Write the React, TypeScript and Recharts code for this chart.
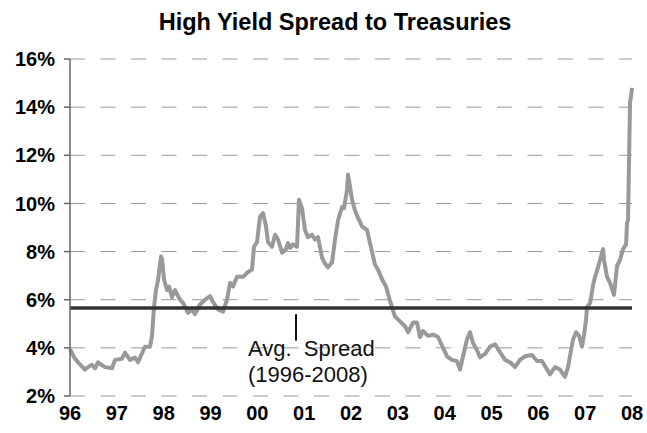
import React from 'react';
import { LineChart, Line, XAxis, YAxis, CartesianGrid, ReferenceLine, ReferenceDot } from 'recharts';

const chartTitle = 'High Yield Spread to Treasuries';
const yearTicks = [0, 1, 2, 3, 4, 5, 6, 7, 8, 9, 10, 11, 12];
const yearLabels = ['96', '97', '98', '99', '00', '01', '02', '03', '04', '05', '06', '07', '08'];
const spreadTicks = [2, 4, 6, 8, 10, 12, 14, 16];
const avgSpread = 5.66;
const avgLabelLine1 = 'Avg.  Spread';
const avgLabelLine2 = '(1996-2008)';
const avgMarkerX = 4.826;
const avgMarkerTop = 5.4;
const avgMarkerBottom = 4.3;
const avgTextX = 3.8;
const avgTextY1 = 3.68;
const avgTextY2 = 2.6;

// time in years since the start of the axis (label "96" = 0)
const times = [
  0.0, 0.09, 0.171, 0.32, 0.384, 0.47, 0.534, 0.598, 0.747, 0.897, 0.961, 1.11, 1.174, 1.281, 1.388, 1.452,
  1.602, 1.708, 1.751, 1.794, 1.836, 1.879, 1.943, 1.965, 2.007, 2.071, 2.114, 2.178, 2.242, 2.349, 2.413,
  2.52, 2.605, 2.669, 2.776, 2.883, 2.99, 3.054, 3.16, 3.267, 3.353, 3.417, 3.481, 3.566, 3.694, 3.801, 3.886,
  3.929, 3.993, 4.057, 4.121, 4.185, 4.228, 4.313, 4.378, 4.442, 4.527, 4.612, 4.655, 4.698, 4.762, 4.847,
  4.89, 4.954, 5.018, 5.082, 5.168, 5.232, 5.296, 5.381, 5.445, 5.509, 5.595, 5.659, 5.723, 5.808, 5.851,
  5.915, 5.936, 5.979, 6.022, 6.086, 6.15, 6.235, 6.342, 6.406, 6.513, 6.577, 6.662, 6.748, 6.833, 6.94,
  7.047, 7.153, 7.218, 7.324, 7.41, 7.474, 7.538, 7.645, 7.751, 7.858, 7.965, 8.05, 8.157, 8.264, 8.328,
  8.392, 8.477, 8.541, 8.606, 8.691, 8.755, 8.862, 8.969, 9.076, 9.182, 9.289, 9.396, 9.503, 9.609, 9.716,
  9.866, 9.972, 10.079, 10.186, 10.25, 10.357, 10.463, 10.57, 10.634, 10.698, 10.741, 10.805, 10.869, 10.933,
  10.976, 11.018, 11.04, 11.104, 11.168, 11.211, 11.253, 11.317, 11.382, 11.403, 11.467, 11.531, 11.616,
  11.68, 11.744, 11.809, 11.873, 11.894, 11.915, 11.937, 11.958, 11.99, 12.0,
];

const spreads = [
  3.95, 3.6, 3.4, 3.1, 3.2, 3.3, 3.15, 3.4, 3.2, 3.15, 3.5, 3.55, 3.8, 3.5, 3.6, 3.4,
  4.05, 4.05, 4.5, 5.7, 6.4, 6.8, 7.8, 7.7, 6.85, 6.4, 6.55, 6.1, 6.4, 6.0, 5.87,
  5.45, 5.6, 5.4, 5.8, 6.0, 6.15, 5.9, 5.6, 5.5, 6.0, 6.7, 6.55, 6.95, 6.95, 7.15, 7.25,
  8.2, 8.4, 9.45, 9.6, 9.05, 8.4, 8.2, 8.7, 8.5, 7.95, 8.1, 8.35, 8.15, 8.3, 8.2,
  10.15, 9.8, 8.9, 8.6, 8.7, 8.5, 8.6, 7.75, 7.5, 7.35, 7.55, 8.5, 9.3, 9.85, 9.8,
  10.55, 11.2, 10.7, 10.15, 9.7, 9.4, 9.05, 8.9, 8.35, 7.45, 7.25, 6.85, 6.55, 5.95, 5.3,
  5.1, 4.9, 4.65, 5.05, 5.05, 4.45, 4.7, 4.5, 4.55, 4.45, 4.0, 3.65, 3.5, 3.45, 3.1,
  3.65, 4.35, 4.65, 4.2, 3.9, 3.6, 3.75, 4.05, 4.15, 3.82, 3.5, 3.4, 3.2, 3.5, 3.65,
  3.7, 3.45, 3.45, 3.1, 2.9, 3.2, 3.1, 2.8, 3.2, 3.9, 4.35, 4.65, 4.5, 4.05,
  4.55, 5.15, 5.7, 5.85, 6.6, 6.95, 7.2, 7.65, 8.1, 7.65, 6.95, 6.7, 6.2,
  7.4, 7.65, 8.1, 8.3, 9.2, 9.3, 11.8, 14.2, 14.6, 14.8,
];

const data = times.map((t, i) => ({ t, spread: spreads[i] }));

const FONT = '"Liberation Sans", Arial, sans-serif';

const makeTextLabel = (text: string) => (props: any) => {
  const vb = props.viewBox || {};
  return (
    <text
      x={vb.x}
      y={vb.y}
      textAnchor="start"
      fontFamily={FONT}
      fontSize={22}
      fill="#111"
      style={{ whiteSpace: 'pre' }}
    >
      {text}
    </text>
  );
};

export default function App() {
  return (
    <div style={{ position: 'absolute', left: 0, top: 0, width: 647, height: 433, background: '#fff' }}>
      <div
        style={{
          position: 'absolute',
          left: 0,
          top: 9,
          width: 670,
          textAlign: 'center',
          fontFamily: FONT,
          fontWeight: 'bold',
          fontSize: 23.5,
          lineHeight: '26px',
          color: '#000',
        }}
      >
        {chartTitle}
      </div>
      <LineChart width={647} height={433} data={data} margin={{ top: 59, right: 15, left: 0, bottom: 7 }}>
        <CartesianGrid vertical={false} stroke="#999" strokeDasharray="15 15.5" />
        <XAxis
          type="number"
          dataKey="t"
          domain={[0, 12]}
          ticks={yearTicks}
          interval={0}
          tickFormatter={(v: number) => yearLabels[v]}
          axisLine={false}
          tickLine={false}
          height={30}
          tickMargin={4}
          tick={{ fill: '#000', fontSize: 20, fontWeight: 'bold', fontFamily: FONT }}
        />
        <YAxis
          type="number"
          domain={[2, 16]}
          ticks={spreadTicks}
          interval={0}
          width={70}
          tickFormatter={(v: number) => `${v}%`}
          axisLine={{ stroke: '#666', strokeWidth: 1.5 }}
          tickLine={{ stroke: '#666', strokeWidth: 1.5 }}
          tickSize={6}
          tickMargin={9}
          tick={{ fill: '#000', fontSize: 20, fontWeight: 'bold', fontFamily: FONT }}
        />
        <Line
          type="linear"
          dataKey="spread"
          stroke="#999"
          strokeWidth={4}
          dot={false}
          isAnimationActive={false}
          strokeLinejoin="round"
        />
        <ReferenceLine y={avgSpread} stroke="#333" strokeWidth={3.5} />
        <ReferenceLine
          segment={[
            { x: avgMarkerX, y: avgMarkerTop },
            { x: avgMarkerX, y: avgMarkerBottom },
          ]}
          stroke="#111"
          strokeWidth={2}
        />
        <ReferenceDot x={avgTextX} y={avgTextY1} r={0} stroke="none" fill="none" label={makeTextLabel(avgLabelLine1)} />
        <ReferenceDot x={avgTextX} y={avgTextY2} r={0} stroke="none" fill="none" label={makeTextLabel(avgLabelLine2)} />
      </LineChart>
    </div>
  );
}
